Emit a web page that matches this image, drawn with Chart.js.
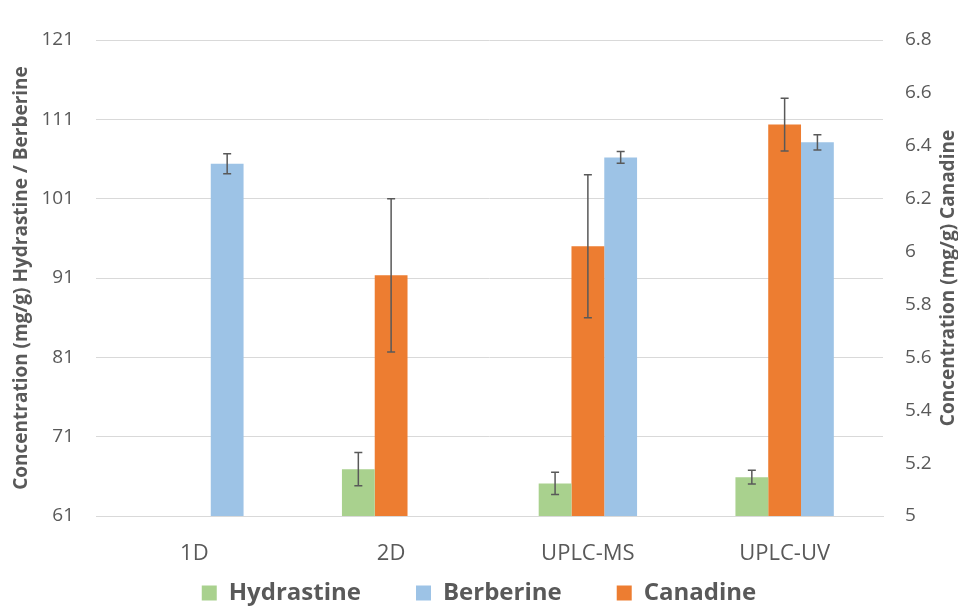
<!DOCTYPE html>
<html>
<head>
<meta charset="utf-8">
<script src="https://cdn.jsdelivr.net/npm/chart.js@4/dist/chart.umd.min.js"></script>
<style>
  html, body { margin: 0; padding: 0; background: #ffffff; }
  #wrap { width: 958px; height: 615px; position: relative; }
</style>
</head>
<body>
<div id="wrap"><canvas id="c" width="958" height="615"></canvas></div>
<script>
// ---- data ----
const categories = ['1D', '2D', 'UPLC-MS', 'UPLC-UV'];
const hydrastine = [null, 66.9, 65.1, 65.9];
const hydrastineErr = [null, 2.1, 1.4, 0.86];
const canadine = [null, 5.91, 6.02, 6.48];
const canadineErr = [null, 0.29, 0.27, 0.10];
const berberine = [105.4, null, 106.2, 108.1];
const berberineErr = [1.26, null, 0.73, 0.97];
const leftTicks = [61, 71, 81, 91, 101, 111, 121];
const rightTicks = [5, 5.2, 5.4, 5.6, 5.8, 6, 6.2, 6.4, 6.6, 6.8];
const leftTitle = 'Concentration (mg/g) Hydrastine / Berberine';
const rightTitle = 'Concentration (mg/g) Canadine';
const legendOrder = ['Hydrastine', 'Berberine', 'Canadine'];

const textColor = '#595959';
const gridColor = '#D9D9D9';
const FONT = "'Open Sans', 'DejaVu Sans', sans-serif";

const errorBarPlugin = {
  id: 'errorBars',
  afterDatasetsDraw(chart) {
    const ctx = chart.ctx;
    ctx.save();
    ctx.strokeStyle = '#595959';
    ctx.lineWidth = 1.5;
    chart.data.datasets.forEach((ds, di) => {
      const meta = chart.getDatasetMeta(di);
      if (meta.hidden) return;
      const yScale = chart.scales[ds.yAxisID];
      ds.data.forEach((v, i) => {
        const e = ds.errors[i];
        if (v == null || e == null) return;
        const bar = meta.data[i];
        const x = bar.x;
        const yTop = yScale.getPixelForValue(v + e);
        const yBot = yScale.getPixelForValue(v - e);
        const cap = 4;
        ctx.beginPath();
        ctx.moveTo(x, yTop); ctx.lineTo(x, yBot);
        ctx.moveTo(x - cap, yTop); ctx.lineTo(x + cap, yTop);
        ctx.moveTo(x - cap, yBot); ctx.lineTo(x + cap, yBot);
        ctx.stroke();
      });
    });
    ctx.restore();
  }
};

const rightTitlePlugin = {
  id: 'rightTitle',
  afterDraw(chart) {
    const ctx = chart.ctx;
    const area = chart.chartArea;
    ctx.save();
    ctx.translate(chart.width - 9, (area.top + area.bottom) / 2);
    ctx.rotate(-Math.PI / 2);
    ctx.font = 'bold 19px ' + FONT;
    ctx.fillStyle = textColor;
    ctx.textAlign = 'center';
    ctx.textBaseline = 'middle';
    ctx.fillText(rightTitle, 0, 0);
    ctx.restore();
  }
};

// let the x-axis labels extend into the legend's (large) padding zone
const layoutTweak = {
  id: 'layoutTweak',
  afterLayout(chart) {
    const xs = chart.scales.x;
    xs.bottom = xs.top + 60;
    xs.height = 60;
  }
};

new Chart(document.getElementById('c'), {
  type: 'bar',
  data: {
    labels: categories,
    datasets: [
      { label: 'Hydrastine', data: hydrastine, errors: hydrastineErr, yAxisID: 'y', backgroundColor: '#A9D18E' },
      { label: 'Canadine', data: canadine, errors: canadineErr, yAxisID: 'y1', backgroundColor: '#ED7D31' },
      { label: 'Berberine', data: berberine, errors: berberineErr, yAxisID: 'y', backgroundColor: '#9DC3E6' }
    ]
  },
  options: {
    responsive: false,
    animation: false,
    devicePixelRatio: 1,
    layout: { padding: { top: 40, left: 0, right: 0, bottom: 0 } },
    datasets: { bar: { categoryPercentage: 0.5, barPercentage: 1.0 } },
    plugins: {
      legend: {
        position: 'bottom',
        labels: {
          boxWidth: 15,
          boxHeight: 15,
          padding: 55,
          color: textColor,
          font: { family: FONT, size: 24, weight: 'bold' },
          sort: (a, b) => legendOrder.indexOf(a.text) - legendOrder.indexOf(b.text)
        }
      },
      tooltip: { enabled: false }
    },
    scales: {
      x: {
        grid: { display: false, drawTicks: false },
        border: { display: true, color: gridColor, width: 1 },
        ticks: { color: textColor, font: { family: FONT, size: 22 }, padding: 25 },
        afterFit(s) { s.height = 10; }
      },
      y: {
        position: 'left',
        min: 61, max: 121,
        afterBuildTicks(s) { s.ticks = leftTicks.map(v => ({ value: v })); },
        grid: { color: gridColor, lineWidth: 1, drawTicks: false },
        border: { display: false },
        ticks: { color: textColor, font: { family: FONT, size: 19 }, padding: 22, callback: v => String(v) },
        title: {
          display: true, text: leftTitle, color: textColor,
          font: { family: FONT, size: 19, weight: 'bold' },
          padding: { top: 10, bottom: 0 }
        },
        afterFit(s) { s.width = 96; }
      },
      y1: {
        position: 'right',
        min: 5, max: 6.8,
        afterBuildTicks(s) { s.ticks = rightTicks.map(v => ({ value: v })); },
        grid: { display: false, drawTicks: false },
        border: { display: false },
        ticks: { color: textColor, font: { family: FONT, size: 19 }, padding: 22, callback: v => String(Math.round(v * 10) / 10) },
        afterFit(s) { s.width = 75; }
      }
    }
  },
  plugins: [errorBarPlugin, rightTitlePlugin, layoutTweak]
});
</script>
</body>
</html>
